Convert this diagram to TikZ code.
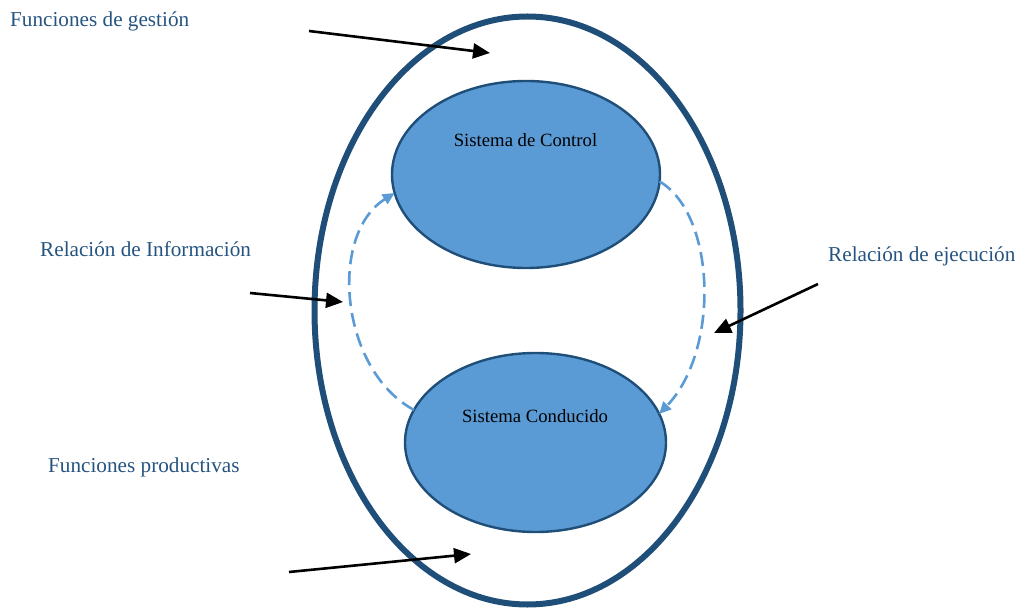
\documentclass[tikz,border=0pt]{standalone}
\usepackage{fontspec}
\setmainfont{Liberation Serif}
\usetikzlibrary{shapes.geometric,arrows.meta}
\definecolor{darkb}{RGB}{31,78,121}
\definecolor{labelb}{RGB}{38,84,128}
\definecolor{fillb}{RGB}{91,155,213}
\tikzset{
  sysbox/.style={ellipse, draw=darkb, line width=2.4pt, fill=fillb, inner sep=0pt, outer sep=0pt},
  systext/.style={anchor=base, inner sep=0pt, text=black, font=\fontsize{18.7}{22}\selectfont},
  lbl/.style={anchor=base west, inner sep=0pt, text=labelb, font=\fontsize{21.2}{25}\selectfont},
  pointer/.style={draw=black, line width=2.6pt, -{Triangle[length=17pt,width=15pt]}},
  flow/.style={draw=fillb, line width=2.6pt, dash pattern=on 14pt off 7pt, -{Triangle[length=12pt,width=11pt]}}
}
\begin{document}
\begin{tikzpicture}[x=1pt,y=-1pt]
\useasboundingbox (0,0) rectangle (1019,609);
% outer ellipse
\draw[darkb, line width=6pt] (527.5,310.5) ellipse [x radius=213, y radius=294];
% inner systems
\node[sysbox, minimum width=268pt, minimum height=187pt] (ctrl) at (526,174.5) {};
\node[sysbox, minimum width=261pt, minimum height=179pt] (cond) at (535.5,442.5) {};
\node[systext] (ctrltext) at (525.5,147) {Sistema de Control};
\node[systext] (condtext) at (535,422) {Sistema Conducido};
% dashed relations
\draw[flow] (cond.165) .. controls (340,370) and (328,235) .. (ctrl.188);
\draw[flow] (ctrl.-3) .. controls (716,215) and (720,350) .. (cond.13);
% labels
\node[lbl] (gest) at (10,27) {Funciones de gestión};
\node[lbl] (info) at (40,257) {Relación de Información};
\node[lbl] (ejec) at (828,262) {Relación de ejecución};
\node[lbl] (prod) at (48,472) {Funciones productivas};
% pointer arrows
\coordinate (g0) at (309,31);  \coordinate (g1) at (490,53);
\coordinate (i0) at (250,293); \coordinate (i1) at (343,302);
\coordinate (e0) at (818,284); \coordinate (e1) at (714,333);
\coordinate (p0) at (289,572); \coordinate (p1) at (471,554);
\draw[pointer] (g0) -- (g1);
\draw[pointer] (i0) -- (i1);
\draw[pointer] (e0) -- (e1);
\draw[pointer] (p0) -- (p1);
\end{tikzpicture}
\end{document}
